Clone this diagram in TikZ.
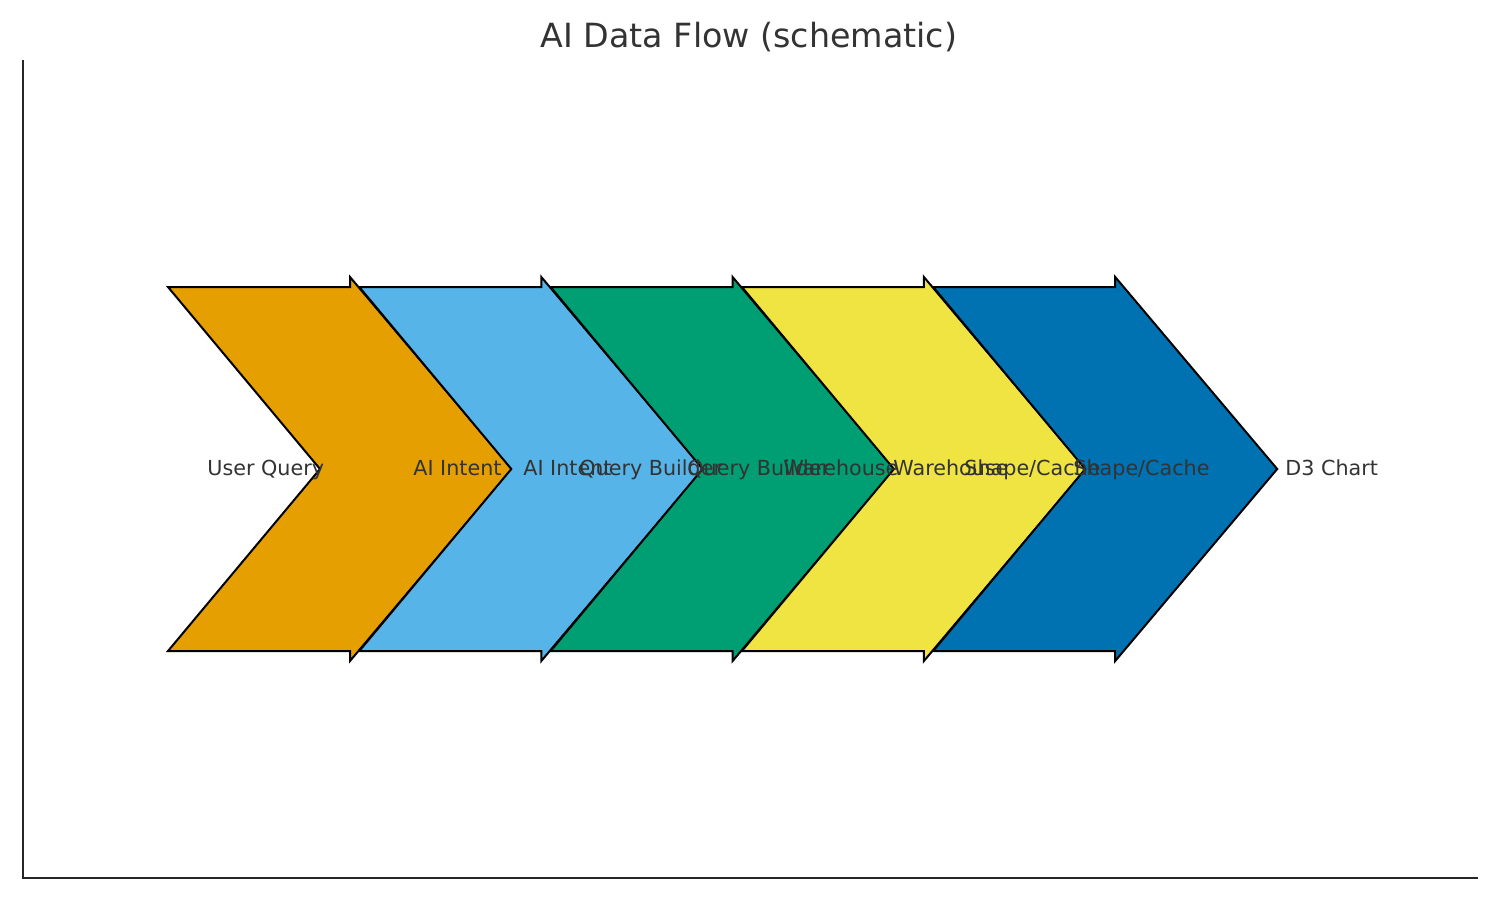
\documentclass[tikz,border=0pt]{standalone}
\usepackage{fontspec}
\setmainfont{DejaVu Sans}
\usetikzlibrary{positioning}
\definecolor{ok-orange}{HTML}{E69F00}
\definecolor{ok-sky}{HTML}{56B4E9}
\definecolor{ok-green}{HTML}{009E73}
\definecolor{ok-yellow}{HTML}{F0E442}
\definecolor{ok-blue}{HTML}{0072B2}
\definecolor{fl-text}{HTML}{333333}
\definecolor{fl-axis}{HTML}{262626}

\begin{document}
\begin{tikzpicture}[
    x=0.5pt, y=-0.5pt,
    font=\fontsize{10.35}{12}\selectfont,
    >=latex
  ]

  % Styles for the flow picture
  \tikzset{
    chevron/.style={draw=black, line width=1pt, line join=miter},
    flowlabel/.style={text=fl-text, inner sep=0pt, anchor=mid west},
    spine/.style={draw=fl-axis, line width=1pt}
  }

  \useasboundingbox (0,0) rectangle (1500,900);

  % Title
  \node (title) [text=fl-text, font=\fontsize{16.65}{20}\selectfont, anchor=base] at (749,47) {AI Data Flow (schematic)};

  % Left and bottom spines
  \coordinate (axtop) at (23,60);
  \coordinate (axorigin) at (23,878);
  \coordinate (axright) at (1478,878);
  \draw[spine] (axtop) -- (axorigin) -- (axright);

  % Five chevrons, one per step
  \foreach \c [count=\i from 0] in {ok-orange, ok-sky, ok-green, ok-yellow, ok-blue}{
    \pgfmathsetmacro{\tx}{168+191.3*\i}
    \draw[chevron, fill=\c] (\tx,287) -- ++(182,0) -- ++(0,-10) -- ++(162,192)
      -- ++(-162,192) -- ++(0,-10) -- ++(-182,0) -- ++(152,-182) -- cycle;
  }

  % Step labels (source and target of each chevron)
  \node (userq)    [flowlabel] at (207,470)  {User Query};
  \node (intentA)  [flowlabel] at (413,470)  {AI Intent};
  \node (intentB)  [flowlabel] at (523,470)  {AI Intent};
  \node (builderA) [flowlabel] at (579,470)  {Query Builder};
  \node (builderB) [flowlabel] at (687,470)  {Query Builder};
  \node (wareA)    [flowlabel] at (783,470)  {Warehouse};
  \node (wareB)    [flowlabel] at (893,470)  {Warehouse};
  \node (shapeA)   [flowlabel] at (964,470)  {Shape/Cache};
  \node (shapeB)   [flowlabel] at (1073,470) {Shape/Cache};
  \node (chart)    [flowlabel] at (1285,470) {D3 Chart};

\end{tikzpicture}
\end{document}
